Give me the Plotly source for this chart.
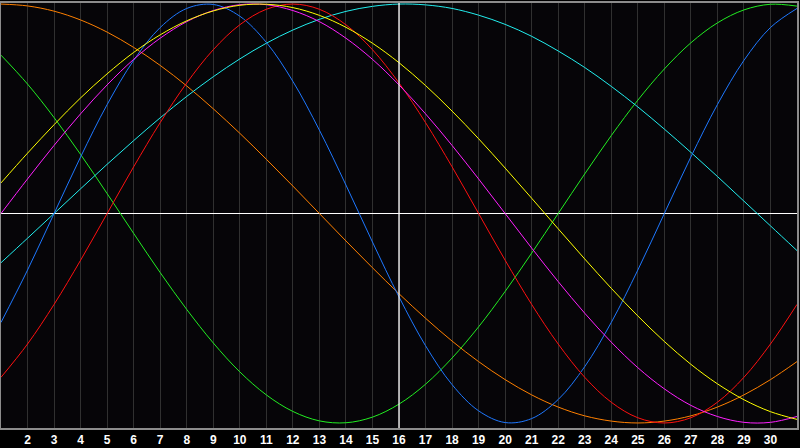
import plotly.graph_objects as go

# days shown on the chart
days = list(range(1, 32))

# cycle values, one per day (day 1 .. day 31)
physical = [-0.520, -0.270, 0.000, 0.270, 0.520, 0.731, 0.888, 0.979, 0.998, 0.942,
            0.817, 0.631, 0.398, 0.136, -0.136, -0.398, -0.631, -0.817, -0.942, -0.998,
            -0.979, -0.888, -0.731, -0.520, -0.270, 0.000, 0.270, 0.520, 0.731, 0.888,
            0.979]
emotional = [-0.782, -0.623, -0.434, -0.223, 0.000, 0.223, 0.434, 0.623, 0.782, 0.901,
             0.975, 1.000, 0.975, 0.901, 0.782, 0.623, 0.434, 0.223, 0.000, -0.223,
             -0.434, -0.623, -0.782, -0.901, -0.975, -1.000, -0.975, -0.901, -0.782, -0.623,
             -0.434]
intellectual = [0.756, 0.618, 0.458, 0.282, 0.095, -0.095, -0.282, -0.458, -0.618, -0.756,
                -0.866, -0.945, -0.990, -0.999, -0.972, -0.910, -0.815, -0.690, -0.541, -0.372,
                -0.189, 0.000, 0.189, 0.372, 0.541, 0.690, 0.815, 0.910, 0.972, 0.999,
                0.990]
intuitive = [0.000, 0.165, 0.325, 0.476, 0.614, 0.736, 0.837, 0.916, 0.969, 0.997,
             0.997, 0.969, 0.916, 0.837, 0.736, 0.614, 0.476, 0.325, 0.165, 0.000,
             -0.165, -0.325, -0.476, -0.614, -0.736, -0.837, -0.916, -0.969, -0.997, -0.997,
             -0.969]
aesthetic = [0.146, 0.288, 0.424, 0.552, 0.667, 0.769, 0.853, 0.920, 0.967, 0.994,
             0.999, 0.983, 0.946, 0.889, 0.813, 0.720, 0.611, 0.489, 0.357, 0.217,
             0.073, -0.073, -0.217, -0.357, -0.489, -0.611, -0.720, -0.813, -0.889, -0.946,
             -0.983]
awareness = [1.000, 0.991, 0.966, 0.924, 0.866, 0.793, 0.707, 0.609, 0.500, 0.383,
             0.259, 0.131, 0.000, -0.131, -0.259, -0.383, -0.500, -0.609, -0.707, -0.793,
             -0.866, -0.924, -0.966, -0.991, -1.000, -0.991, -0.966, -0.924, -0.866, -0.793,
             -0.707]
spiritual = [-0.235, -0.118, 0.000, 0.118, 0.235, 0.348, 0.457, 0.559, 0.653, 0.738,
             0.813, 0.876, 0.927, 0.965, 0.989, 1.000, 0.996, 0.979, 0.947, 0.903,
             0.846, 0.776, 0.697, 0.607, 0.509, 0.403, 0.292, 0.177, 0.059, -0.059,
             -0.177]

# tick labels along the bottom
tick_days = list(range(2, 31))
tick_labels = [str(d) for d in tick_days]
today = 16

series = [
    ("awareness", awareness, "#ff8000"),
    ("intellectual", intellectual, "#22ee22"),
    ("spiritual", spiritual, "#22eeee"),
    ("physical", physical, "#1e78ff"),
    ("emotional", emotional, "#ff1010"),
    ("intuitive", intuitive, "#ff20ff"),
    ("aesthetic", aesthetic, "#ffff00"),
]

fig = go.Figure()
for name, vals, col in series:
    fig.add_trace(go.Scatter(
        x=days, y=vals, name=name, mode="lines",
        line=dict(color=col, width=1, shape="spline", smoothing=1.0),
        hoverinfo="skip",
    ))

fig.add_vline(x=today, line=dict(color="white", width=1.3))

fig.update_layout(
    width=800, height=448,
    margin=dict(l=1, r=1, t=1, b=20),
    paper_bgcolor="#000000",
    plot_bgcolor="#060508",
    showlegend=False,
)
fig.update_xaxes(
    range=[1, 31], tickvals=tick_days, ticktext=tick_labels,
    showgrid=True, gridcolor="#303030", gridwidth=1,
    zeroline=False, showline=True, linecolor="#8c8c8c", linewidth=1.5, mirror=True,
    ticks="", tickfont=dict(family="Liberation Sans", size=12, color="white", weight="bold"),
)
fig.update_yaxes(
    range=[-1.024, 1.005], showgrid=False, showticklabels=False, ticks="",
    zeroline=True, zerolinecolor="white", zerolinewidth=1.3,
    showline=True, linecolor="#8c8c8c", linewidth=1.5, mirror=True,
)

# drop the page's default body margin so the chart sits flush in the window
fig.write_html("out.html", config={"displayModeBar": False},
               post_script="document.body.style.margin='0';document.body.style.overflow='hidden';")
